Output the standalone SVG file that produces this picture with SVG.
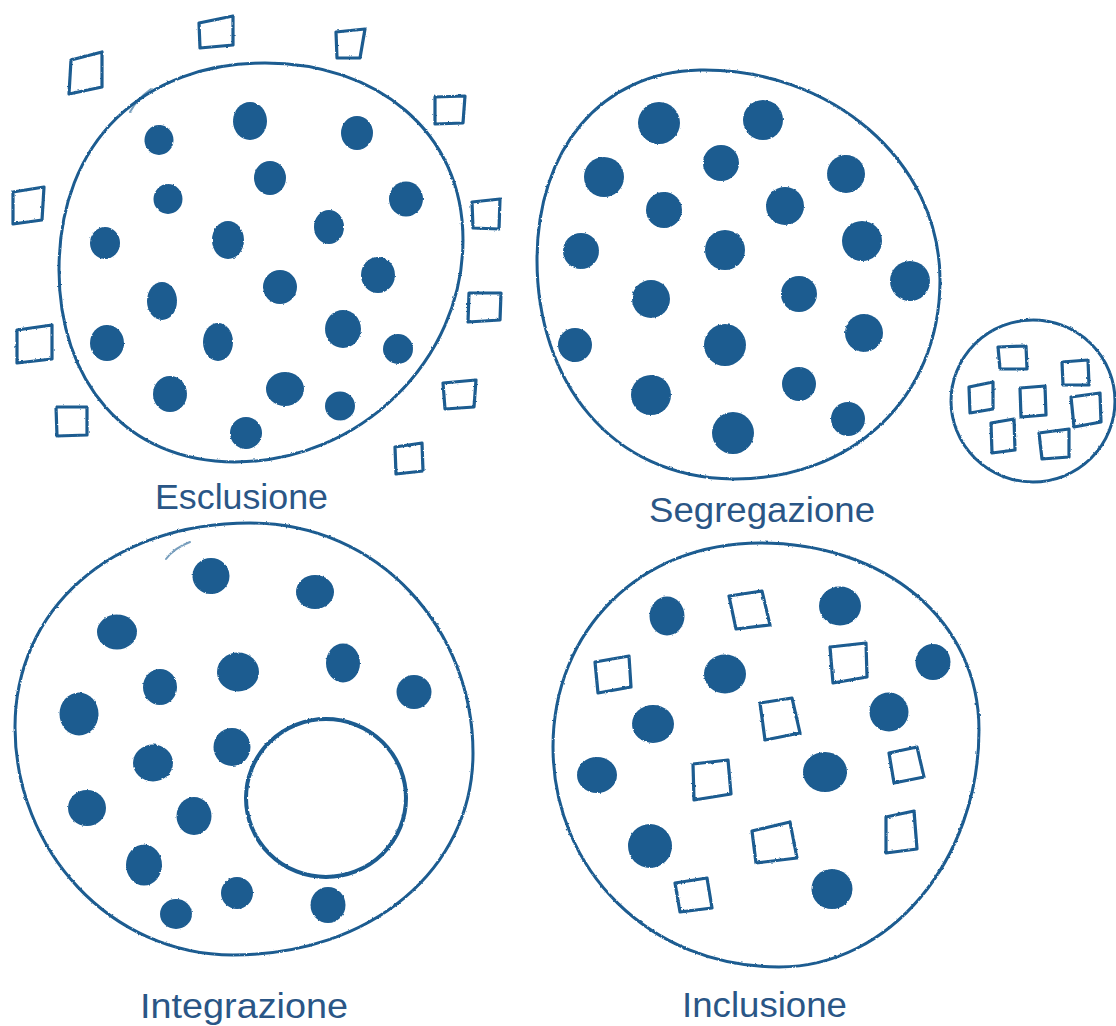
<svg xmlns="http://www.w3.org/2000/svg" width="1116" height="1026" viewBox="0 0 1116 1026">
  <defs>
    <filter id="rough" x="-5%" y="-5%" width="110%" height="110%">
      <feTurbulence type="fractalNoise" baseFrequency="0.35" numOctaves="2" seed="3" result="n"/>
      <feDisplacementMap in="SourceGraphic" in2="n" scale="2.2" xChannelSelector="R" yChannelSelector="G"/>
    </filter>
  </defs>
  <style>
    .ring { fill: none; stroke: #1b5b90; stroke-width: 3; stroke-linecap: round; stroke-linejoin: round; }
    .faint { fill: none; stroke: #1b5b90; stroke-width: 2; stroke-linecap: round; opacity: 0.6; }
    .inner { fill: none; stroke: #1b5b90; stroke-width: 4; }
    .dot { fill: #1b5b90; }
    .sq { fill: none; stroke: #1b5b90; stroke-width: 3.2; stroke-linejoin: round; stroke-linecap: round; }
    .label { font-family: "Liberation Sans", Arial, Helvetica, sans-serif; font-size: 35px; fill: #2a5686; }
  </style>
  <rect width="1116" height="1026" fill="#ffffff"/>

  <g id="esclusione" filter="url(#rough)">
    <path class="ring" d="M 265 63 C 375 63 463 130 463 240 C 463 360 360 462 235 462 C 125 462 59 380 59 270 C 59 140 145 63 265 63 Z"/>
    <path class="faint" d="M 130 112 Q 137 99 151 89"/>
    <g class="dot">
      <ellipse cx="159" cy="140" rx="14.5" ry="15"/>
      <ellipse cx="250" cy="121" rx="17" ry="19"/>
      <ellipse cx="357" cy="133" rx="16" ry="17"/>
      <ellipse cx="270" cy="178" rx="16" ry="17"/>
      <ellipse cx="168" cy="199" rx="14.5" ry="15"/>
      <ellipse cx="406" cy="199" rx="17" ry="17.5"/>
      <ellipse cx="105" cy="243" rx="15" ry="16"/>
      <ellipse cx="228" cy="240" rx="16" ry="19"/>
      <ellipse cx="329" cy="227" rx="15" ry="17"/>
      <ellipse cx="378" cy="275" rx="17" ry="18"/>
      <ellipse cx="280" cy="287" rx="17" ry="17"/>
      <ellipse cx="162" cy="301" rx="15" ry="19"/>
      <ellipse cx="107" cy="343" rx="17" ry="18"/>
      <ellipse cx="218" cy="342" rx="15" ry="19"/>
      <ellipse cx="343" cy="329" rx="18" ry="19"/>
      <ellipse cx="398" cy="349" rx="15" ry="15"/>
      <ellipse cx="170" cy="394" rx="17" ry="18"/>
      <ellipse cx="285" cy="389" rx="19" ry="17"/>
      <ellipse cx="340" cy="406" rx="15" ry="14.5"/>
      <ellipse cx="246" cy="433" rx="16" ry="16"/>
    </g>
    <g class="sq">
      <polygon points="71,60 102,52 102,87 69,94"/>
      <polygon points="199,23 233,16 233,45 200,48"/>
      <polygon points="336,32 365,29 360,58 337,58"/>
      <polygon points="435,97 465,96 463,123 435,124"/>
      <polygon points="13,192 44,187 42,220 13,224"/>
      <polygon points="472,202 500,199 499,229 473,228"/>
      <polygon points="17,330 52,325 52,359 17,363"/>
      <polygon points="469,293 501,293 500,320 468,322"/>
      <polygon points="56,407 87,407 87,435 57,436"/>
      <polygon points="443,383 476,380 474,407 445,409"/>
      <polygon points="395,447 422,443 423,471 396,474"/>
    </g>
  </g>
  <text class="label" x="155" y="509" textLength="173" lengthAdjust="spacingAndGlyphs">Esclusione</text>

  <g id="segregazione" filter="url(#rough)">
    <path class="ring" d="M 700 70 C 830 68 940 160 940 280 C 940 400 850 480 733 479 C 610 478 537 380 537 260 C 537 150 600 72 700 70 Z"/>
    <g class="dot">
      <circle cx="659" cy="123" r="21"/>
      <circle cx="763" cy="120" r="20"/>
      <circle cx="721" cy="163" r="18"/>
      <circle cx="604" cy="177" r="20"/>
      <circle cx="846" cy="174" r="19"/>
      <circle cx="664" cy="210" r="18"/>
      <circle cx="785" cy="206" r="19"/>
      <circle cx="581" cy="251" r="18"/>
      <circle cx="725" cy="250" r="20"/>
      <circle cx="862" cy="241" r="20"/>
      <circle cx="910" cy="281" r="20"/>
      <circle cx="651" cy="299" r="19"/>
      <circle cx="799" cy="294" r="18"/>
      <circle cx="575" cy="345" r="17"/>
      <circle cx="725" cy="345" r="21"/>
      <circle cx="864" cy="333" r="19"/>
      <circle cx="651" cy="395" r="20"/>
      <circle cx="799" cy="384" r="17"/>
      <circle cx="733" cy="433" r="21"/>
      <circle cx="848" cy="419" r="17"/>
    </g>
  </g>
  <g id="segregazione-small" filter="url(#rough)">
    <ellipse class="ring" cx="1033" cy="401" rx="82" ry="81"/>
    <g class="sq">
      <polygon points="998,347 1026,346 1027,369 1000,369"/>
      <polygon points="1062,362 1088,360 1089,385 1063,385"/>
      <polygon points="969,387 993,382 993,409 970,413"/>
      <polygon points="1020,388 1045,386 1046,415 1021,417"/>
      <polygon points="1071,397 1100,393 1101,422 1074,427"/>
      <polygon points="991,423 1014,419 1015,450 992,453"/>
      <polygon points="1039,433 1069,429 1069,457 1042,459"/>
    </g>
  </g>
  <text class="label" x="649" y="522" textLength="226" lengthAdjust="spacingAndGlyphs">Segregazione</text>

  <g id="integrazione" filter="url(#rough)">
    <path class="ring" d="M 250 523 C 380 523 473 630 473 753 C 473 870 370 955 233 955 C 110 955 15 850 15 727 C 15 610 110 523 250 523 Z"/>
    <path class="faint" d="M 166 559 Q 174 548 190 542"/>
    <ellipse class="inner" cx="326" cy="798" rx="80" ry="79"/>
    <g class="dot">
      <ellipse cx="211" cy="576" rx="18.5" ry="18"/>
      <ellipse cx="315" cy="592" rx="19" ry="17"/>
      <ellipse cx="117" cy="632" rx="20" ry="17.5"/>
      <ellipse cx="238" cy="672" rx="21" ry="19.5"/>
      <ellipse cx="343" cy="663" rx="17" ry="19.5"/>
      <ellipse cx="160" cy="687" rx="17" ry="18"/>
      <ellipse cx="414" cy="692" rx="17.5" ry="17"/>
      <ellipse cx="79" cy="714" rx="19.5" ry="21.5"/>
      <ellipse cx="232" cy="747" rx="18.5" ry="19"/>
      <ellipse cx="153" cy="763" rx="20" ry="18.5"/>
      <ellipse cx="87" cy="808" rx="19" ry="18"/>
      <ellipse cx="194" cy="816" rx="17.5" ry="19"/>
      <ellipse cx="144" cy="865" rx="18" ry="20.5"/>
      <ellipse cx="237" cy="893" rx="16" ry="16"/>
      <ellipse cx="176" cy="914" rx="16" ry="15"/>
      <ellipse cx="328" cy="905" rx="17.5" ry="18"/>
    </g>
  </g>
  <text class="label" x="140" y="1018" textLength="208" lengthAdjust="spacingAndGlyphs">Integrazione</text>

  <g id="inclusione" filter="url(#rough)">
    <path class="ring" d="M 760 543 C 885 543 979 620 979 730 C 979 860 890 967 779 967 C 650 967 553 870 553 747 C 553 630 640 543 760 543 Z"/>
    <g class="dot">
      <ellipse cx="667" cy="616" rx="17.5" ry="19.5"/>
      <ellipse cx="840" cy="606" rx="21" ry="19.5"/>
      <ellipse cx="725" cy="674" rx="21" ry="19.5"/>
      <ellipse cx="933" cy="662" rx="17.5" ry="18"/>
      <ellipse cx="653" cy="724" rx="21" ry="19"/>
      <ellipse cx="889" cy="712" rx="19.5" ry="19.5"/>
      <ellipse cx="597" cy="775" rx="20" ry="18"/>
      <ellipse cx="825" cy="772" rx="22" ry="20"/>
      <ellipse cx="650" cy="846" rx="22" ry="22"/>
      <ellipse cx="832" cy="889" rx="20.5" ry="20"/>
    </g>
    <g class="sq">
      <polygon points="729,596 762,591 770,625 736,629"/>
      <polygon points="595,662 629,656 631,687 598,693"/>
      <polygon points="830,647 866,643 867,677 833,683"/>
      <polygon points="760,703 792,698 800,733 765,740"/>
      <polygon points="693,764 728,760 731,794 694,800"/>
      <polygon points="889,753 917,747 924,777 894,783"/>
      <polygon points="752,831 790,822 797,858 756,863"/>
      <polygon points="886,817 914,811 917,849 886,853"/>
      <polygon points="675,883 707,878 712,908 680,912"/>
    </g>
  </g>
  <text class="label" x="682" y="1017" textLength="165" lengthAdjust="spacingAndGlyphs">Inclusione</text>
</svg>
